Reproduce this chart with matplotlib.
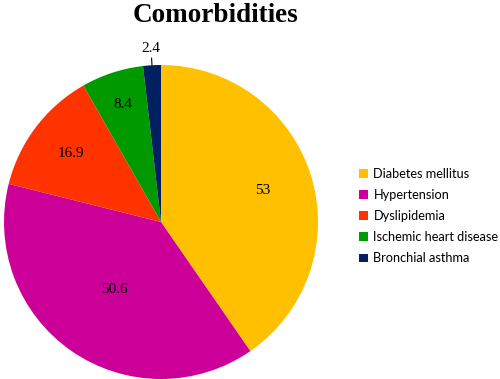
import numpy as np
import matplotlib
matplotlib.use("Agg")
import matplotlib.pyplot as plt

# ── Data ──────────────────────────────────────────────────────────────────────
categories = ["Diabetes mellitus", "Hypertension", "Dyslipidemia",
              "Ischemic heart disease", "Bronchial asthma"]
values     = [53, 50.6, 16.9, 8.4, 2.4]
labels     = ["53", "50.6", "16.9", "8.4", "2.4"]
colors     = ["#FFC000", "#CC0099", "#FF3300", "#009900", "#002060"]

# radial position of each value label (fraction of radius)
label_r = [0.68, 0.52, 0.72, 0.79, 1.11]

fig = plt.figure(figsize=(5.0, 3.79), dpi=100)
ax = fig.add_axes([4 / 500, 0.0, 314 / 500, 314 / 379])

wedges, _ = ax.pie(values, colors=colors, startangle=90, counterclock=False,
                   radius=1.0, wedgeprops=dict(linewidth=0))
ax.set_xlim(-1, 1)
ax.set_ylim(-1, 1)
ax.set_aspect("equal")
ax.axis("off")

for w, lab, r in zip(wedges, labels, label_r):
    mid = np.deg2rad((w.theta1 + w.theta2) / 2)
    x, y = r * np.cos(mid), r * np.sin(mid)
    ax.text(x, y, lab, ha="center", va="center", fontsize=11,
            family="Liberation Serif", clip_on=False)

# leader line for the small slice
w = wedges[-1]
mid = np.deg2rad((w.theta1 + w.theta2) / 2)
ax.plot([np.cos(mid) * 1.0, np.cos(mid) * 1.045],
        [np.sin(mid) * 1.0, np.sin(mid) * 1.045],
        color="black", linewidth=0.8, clip_on=False)

fig.text(216 / 500, 1 - 15 / 379, "Comorbidities", ha="center", va="center",
         fontsize=19.5, fontweight="bold", family="Liberation Serif")

fig.legend(wedges, categories, loc="center left",
           bbox_to_anchor=(359 / 500, 1 - 216 / 379), frameon=False,
           prop=dict(family="Lato", size=9.2), handlelength=0.68,
           handleheight=0.68, handletextpad=0.45, labelspacing=0.72,
           borderaxespad=0, borderpad=0)

fig.savefig("out.png", dpi=100)
